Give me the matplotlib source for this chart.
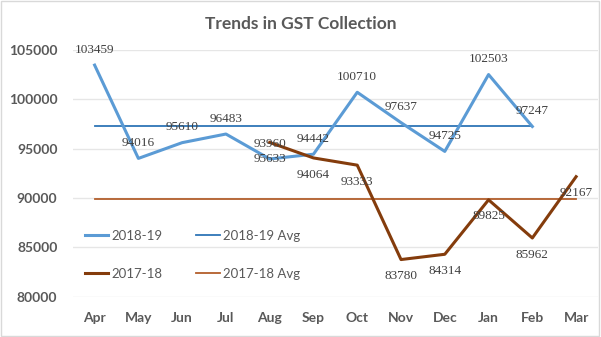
import matplotlib
matplotlib.use("Agg")

import matplotlib.pyplot as plt
import numpy as np
from matplotlib.patches import Rectangle

# data
months = ["Apr", "May", "Jun", "Jul", "Aug", "Sep", "Oct", "Nov", "Dec", "Jan", "Feb", "Mar"]
gst_1819 = [103459, 94016, 95610, 96483, 93960, 94442, 100710, 97637, 94725, 102503, 97247, None]
gst_1718 = [None, None, None, None, 95633, 94064, 93333, 83780, 84314, 89825, 85962, 92167]
avg_1819 = 97345
avg_1718 = 89885

BLUE = "#5B9BD5"
BLUE_AVG = "#2E75B6"
BROWN = "#843C0C"
BROWN_AVG = "#B35E2B"
GRAY = "#595959"


def to_array(vals):
    return np.array([np.nan if v is None else v for v in vals], dtype=float)


fig = plt.figure(figsize=(6.01, 3.37), dpi=100)
ax = fig.add_axes([0.121, 0.119, 0.874, 0.733])

x = np.arange(len(months))
y1819 = to_array(gst_1819)
y1718 = to_array(gst_1718)

# average lines span the months that have data
x1819 = x[~np.isnan(y1819)]
l_avg1819, = ax.plot([x1819[0], x1819[-1]], [avg_1819, avg_1819], color=BLUE_AVG, lw=1.3, zorder=2)
l_avg1718, = ax.plot([x[0], x[-1]], [avg_1718, avg_1718], color=BROWN_AVG, lw=1.3, zorder=2)
l1819, = ax.plot(x, y1819, color=BLUE, lw=2.2, zorder=3)
l1718, = ax.plot(x, y1718, color=BROWN, lw=2.2, zorder=3)

label_font = dict(family="Liberation Serif", size=9.5, color="#404040")
for xi, v in zip(x, y1819):
    if not np.isnan(v):
        ax.annotate(f"{int(v)}", (xi, v), xytext=(0, 11), textcoords="offset points",
                    ha="center", va="center", zorder=4, **label_font)
for xi, v in zip(x, y1718):
    if not np.isnan(v):
        ax.annotate(f"{int(v)}", (xi, v), xytext=(0, -12), textcoords="offset points",
                    ha="center", va="center", zorder=4, **label_font)

ax.set_xlim(-0.5, len(months) - 0.5)
ax.set_ylim(80000, 105000)
ax.set_yticks(np.arange(80000, 105001, 5000))
ax.set_xticks(x)
ax.set_xticklabels(months)
ax.yaxis.grid(True, color="#E6E6E6", lw=1)
ax.set_axisbelow(True)
for s in ax.spines.values():
    s.set_visible(False)
ax.tick_params(length=0, labelcolor=GRAY, labelsize=10)
ax.tick_params(axis="x", pad=11)
ax.tick_params(axis="y", pad=11)
for t in ax.get_xticklabels() + ax.get_yticklabels():
    t.set_fontfamily("Lato")
    t.set_fontweight("bold")

fig.text(0.5, 0.93, "Trends in GST Collection", ha="center", va="center",
         family="Lato", weight="bold", size=12.5, color=GRAY)

leg = ax.legend([l1819, l1718, l_avg1819, l_avg1718],
                ["2018-19", "2017-18", "2018-19 Avg", "2017-18 Avg"],
                ncol=2, frameon=False, loc="upper left",
                bbox_to_anchor=(0.0, 0.32), handlelength=1.8, handletextpad=0.2,
                columnspacing=2.6, labelspacing=2.0,
                prop=dict(family="Lato", size=9.5))
for t in leg.get_texts():
    t.set_color(GRAY)

fig.patches.append(Rectangle((0.002, 0.003), 0.995, 0.993, transform=fig.transFigure,
                             fill=False, edgecolor="#D9D9D9", lw=1))

fig.savefig("out.png", dpi=100)
